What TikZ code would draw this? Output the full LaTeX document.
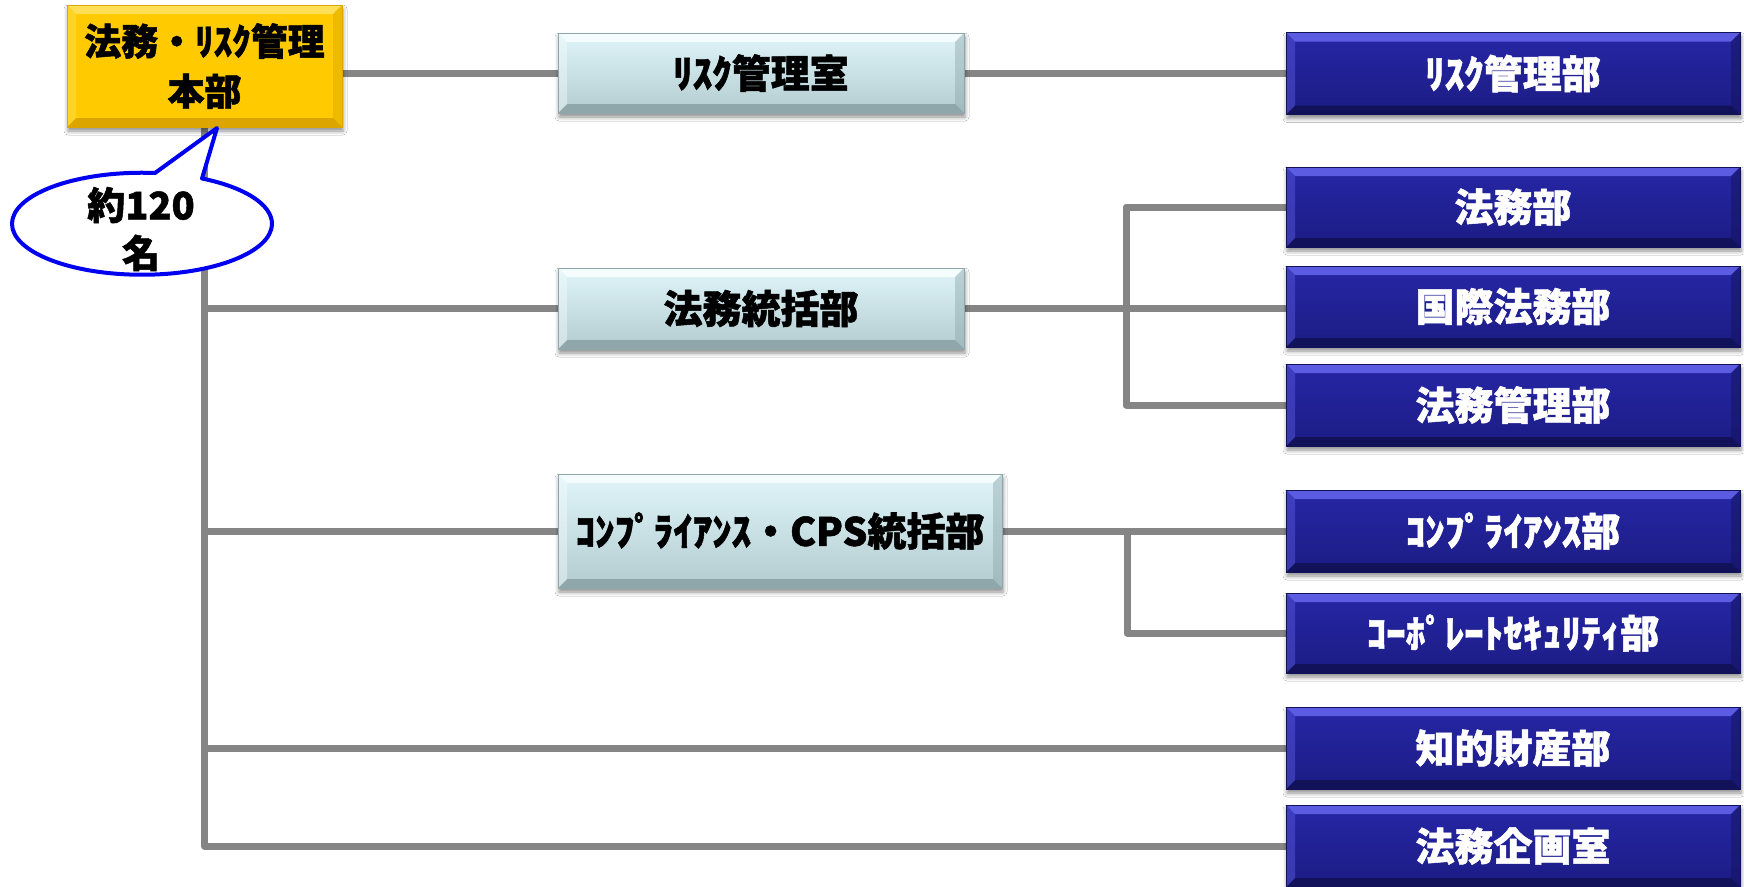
\documentclass[tikz,border=0pt]{standalone}
\usepackage{fontspec}
\setmainfont{Noto Sans CJK JP}[BoldFeatures={FakeBold=1.3}]
\usetikzlibrary{shadows.blur}
\definecolor{linegray}{HTML}{858585}
\definecolor{yelmain}{HTML}{FFCB00}
\definecolor{yeltop}{HTML}{FFDF55}
\definecolor{yelbot}{HTML}{DDA500}
\definecolor{lbtop}{HTML}{DFF5F9}
\definecolor{lbbot}{HTML}{B3CBCF}
\definecolor{lbbevt}{HTML}{F4FCFD}
\definecolor{lbbevb}{HTML}{8FA6AA}
\definecolor{bltop}{HTML}{2626A6}
\definecolor{blbot}{HTML}{1C1C84}
\definecolor{blbevt}{HTML}{5C5CE2}
\definecolor{blbevb}{HTML}{12125A}
\definecolor{callblue}{HTML}{0000F0}
\pgfdeclarelayer{bg}
\pgfsetlayers{bg,main}
\tikzset{
  bevel/.style n args={2}{path picture={
    \coordinate (bvA) at (path picture bounding box.north west);
    \coordinate (bvB) at (path picture bounding box.north east);
    \coordinate (bvC) at (path picture bounding box.south east);
    \coordinate (bvD) at (path picture bounding box.south west);
    \fill[#1] (bvA) -- (bvB) -- ([shift={(-9pt,-9pt)}]bvB) -- ([shift={(9pt,-9pt)}]bvA) -- cycle;
    \fill[#2] (bvD) -- (bvC) -- ([shift={(-9pt,9pt)}]bvC) -- ([shift={(9pt,9pt)}]bvD) -- cycle;
    \fill[#1,opacity=.45] (bvA) -- ([shift={(9pt,-9pt)}]bvA) -- ([shift={(9pt,9pt)}]bvD) -- (bvD) -- cycle;
    \fill[#2,opacity=.45] (bvB) -- ([shift={(-9pt,-9pt)}]bvB) -- ([shift={(-9pt,9pt)}]bvC) -- (bvC) -- cycle;
  }},
  boxbase/.style={rectangle, inner sep=0pt, font=\bfseries\fontsize{39}{46}\selectfont,
    blur shadow={shadow xshift=1pt, shadow yshift=-4pt, shadow blur radius=4pt, shadow opacity=45}},
  hqbox/.style={boxbase, fill=yelmain, draw=yelbot, line width=0.8pt,
    bevel={yeltop}{yelbot}, text=black, align=center, font=\bfseries\fontsize{37}{50}\selectfont},
  lightbox/.style={boxbase, top color=lbtop, bottom color=lbbot, draw=lbbevb, line width=0.6pt,
    bevel={lbbevt}{lbbevb}, text=black},
  bluebox/.style={boxbase, top color=bltop, bottom color=blbot, draw=blbevb, line width=0.6pt,
    bevel={blbevt}{blbevb}, text=white, minimum width=454pt},
  conn/.style={draw=linegray, line width=7pt, line join=round},
}
\begin{document}
\begin{tikzpicture}[x=1pt,y=-1pt]
\useasboundingbox (0,0) rectangle (1744,886);

% nodes
\node[hqbox, minimum width=275pt, minimum height=122pt] (hq) at (204.5,66) {法務・ﾘｽｸ管理\\本部};
\node[lightbox, minimum width=406pt, minimum height=80pt] (rr) at (761,73) {ﾘｽｸ管理室};
\node[lightbox, minimum width=406pt, minimum height=81pt] (tk) at (761,308.5) {法務統括部};
\node[lightbox, minimum width=444pt, minimum height=114pt] (cps) at (780,531) {ｺﾝﾌﾟﾗｲｱﾝｽ・CPS統括部};

\node[bluebox, minimum height=82pt] (rd) at (1513,73.5) {ﾘｽｸ管理部};
\node[bluebox, minimum height=80pt] (hm) at (1513,207) {法務部};
\node[bluebox, minimum height=81pt] (kk) at (1513,306.5) {国際法務部};
\node[bluebox, minimum height=82pt] (km) at (1513,405) {法務管理部};
\node[bluebox, minimum height=82pt] (cp) at (1513,531) {ｺﾝﾌﾟﾗｲｱﾝｽ部};
\node[bluebox, minimum height=80pt] (cs) at (1513,633) {ｺｰﾎﾟﾚｰﾄｾｷｭﾘﾃｨ部};
\node[bluebox, minimum height=82pt] (ch) at (1513,748) {知的財産部};
\node[bluebox, minimum height=82pt] (kg) at (1513,846) {法務企画室};

\coordinate (bx1) at (1126,0);
\coordinate (bx2) at (1127,0);

% connectors (behind boxes)
\begin{pgfonlayer}{bg}
\fill[white] (0,0) rectangle (1744,886);
\path[conn] (rr.west) -- (rr.west -| hq.east);
\path[conn] (rr.east) -- (rr.east -| rd.west);
\path[conn] (hq.south) -- (hq.south |- kg.west) -- (kg.west);
\path[conn] (hq.south |- tk.west) -- (tk.west);
\path[conn] (hq.south |- cps.west) -- (cps.west);
\path[conn] (hq.south |- ch.west) -- (ch.west);
\path[conn] (tk.east) -- (tk.east -| kk.west);
\path[conn] (hm.west) -- (hm.west -| bx1) -- (km.west -| bx1) -- (km.west);
\path[conn] (cps.east) -- (cps.east -| cp.west);
\path[conn] (cps.east -| bx2) -- (cs.west -| bx2) -- (cs.west);
\end{pgfonlayer}

% callout
\draw[draw=callblue, fill=white, line width=4pt, line join=round]
  (155,173) arc[start angle=84.26, end angle=422.5, x radius=130pt, y radius=51pt]
  -- (217,128) -- cycle;
\node[font=\bfseries\fontsize{38}{48}\selectfont, align=center, inner sep=0pt] (cnt) at (141,229) {約120\\名};
\end{tikzpicture}
\end{document}
